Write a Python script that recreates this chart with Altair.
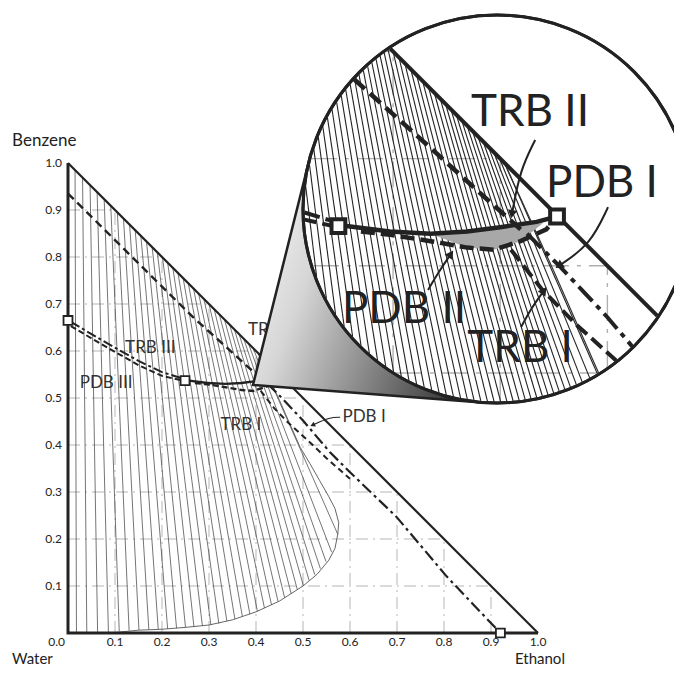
import math
import pandas as pd
import altair as alt

# ---------------- data (x = ethanol fraction, y = benzene fraction) ----------------
tie_bottom_x = [0.018, 0.040, 0.063, 0.086, 0.109, 0.130, 0.151, 0.172, 0.192, 0.212,
                0.231, 0.250, 0.268, 0.286, 0.304, 0.321, 0.338, 0.355, 0.371, 0.387,
                0.403, 0.418, 0.433, 0.447, 0.461, 0.475, 0.488, 0.501, 0.513, 0.525,
                0.537, 0.549, 0.561, 0.574]
tie_bottom_y = [0.000, 0.000, 0.000, 0.002, 0.004, 0.005, 0.006, 0.007, 0.008, 0.009,
                0.010, 0.012, 0.013, 0.015, 0.017, 0.020, 0.025, 0.030, 0.035, 0.040,
                0.046, 0.053, 0.060, 0.067, 0.075, 0.083, 0.092, 0.100, 0.112, 0.124,
                0.137, 0.152, 0.172, 0.210]
tie_top_x = [0.015, 0.031, 0.047, 0.062, 0.077, 0.091, 0.105, 0.118, 0.131, 0.143,
             0.155, 0.167, 0.179, 0.190, 0.201, 0.212, 0.223, 0.234, 0.245, 0.256,
             0.267, 0.278, 0.289, 0.300, 0.311, 0.322, 0.333, 0.344, 0.354, 0.364,
             0.374, 0.384, 0.394, 0.404]

# extra tie lines that only the magnified view resolves
fine_bottom_x = [0.202, 0.2215, 0.2405, 0.259, 0.277, 0.295, 0.3125, 0.3295, 0.3465, 0.363,
                 0.379, 0.395, 0.4105, 0.4255, 0.440, 0.454, 0.468, 0.4815, 0.4945, 0.507,
                 0.519, 0.531, 0.543, 0.555, 0.5675]
fine_bottom_y = [0.0085, 0.0095, 0.011, 0.0125, 0.014, 0.016, 0.0185, 0.0225, 0.0275, 0.0325,
                 0.0375, 0.043, 0.0495, 0.0565, 0.0635, 0.071, 0.079, 0.0875, 0.096, 0.106,
                 0.118, 0.1305, 0.1445, 0.162, 0.191]
fine_top_x = [0.137, 0.149, 0.161, 0.173, 0.1845, 0.1955, 0.2065, 0.2175, 0.2285, 0.2395,
              0.2505, 0.2615, 0.2725, 0.2835, 0.2945, 0.3055, 0.3165, 0.3275, 0.3385, 0.349,
              0.359, 0.369, 0.379, 0.389, 0.399]

binodal_x = [0.090, 0.150, 0.200, 0.250, 0.300, 0.350, 0.400, 0.450, 0.500, 0.530, 0.555,
             0.568, 0.574, 0.576, 0.568, 0.555, 0.535, 0.515, 0.494, 0.450, 0.404]
binodal_y = [0.000, 0.006, 0.008, 0.012, 0.017, 0.028, 0.045, 0.068, 0.100, 0.125, 0.155,
             0.180, 0.210, 0.235, 0.265, 0.290, 0.325, 0.360, 0.395, 0.495, 0.596]

trb2_x = [0.000, 0.100, 0.200, 0.266, 0.335, 0.381, 0.419]
trb2_y = [0.935, 0.836, 0.737, 0.672, 0.610, 0.568, 0.534]

trb3_x = [0.006, 0.050, 0.100, 0.150, 0.200, 0.249]
trb3_y = [0.662, 0.636, 0.607, 0.579, 0.555, 0.540]
pdb3_x = [0.006, 0.050, 0.100, 0.150, 0.200, 0.249]
pdb3_y = [0.653, 0.627, 0.598, 0.570, 0.547, 0.536]

upper_x = [0.249, 0.297, 0.335, 0.369, 0.400, 0.434, 0.453]
upper_y = [0.538, 0.532, 0.530, 0.532, 0.536, 0.541, 0.546]
pdb2_x = [0.270, 0.297, 0.335, 0.369, 0.394, 0.419, 0.443, 0.453]
pdb2_y = [0.532, 0.529, 0.523, 0.517, 0.515, 0.523, 0.534, 0.546]

lens_x = [0.335, 0.369, 0.394, 0.419, 0.440]
lens_top = [0.530, 0.532, 0.535, 0.538, 0.540]
lens_bottom = [0.530, 0.517, 0.515, 0.523, 0.540]

trb1_x = [0.410, 0.439, 0.470, 0.510, 0.550, 0.600]
trb1_y = [0.515, 0.478, 0.446, 0.410, 0.372, 0.328]
pdb1_x = [0.425, 0.440, 0.456, 0.500, 0.557, 0.600, 0.699, 0.806, 0.920]
pdb1_y = [0.530, 0.515, 0.499, 0.452, 0.385, 0.342, 0.247, 0.120, 0.000]

marker_x = [0.000, 0.249, 0.453, 0.920]
marker_y = [0.665, 0.537, 0.546, 0.000]

grid_values = [0.1, 0.2, 0.3, 0.4, 0.5, 0.6, 0.7, 0.8, 0.9]
tick_values = [0.1, 0.2, 0.3, 0.4, 0.5, 0.6, 0.7, 0.8, 0.9, 1.0]
tick_labels = ["0.1", "0.2", "0.3", "0.4", "0.5", "0.6", "0.7", "0.8", "0.9", "1.0"]

main_labels = ["TRB III", "PDB III", "TRB I"]
main_label_x = [0.175, 0.081, 0.368]
main_label_y = [0.606, 0.532, 0.443]
side_labels = ["PDB I", "TRB II"]
side_label_x = [0.584, 0.383]
side_label_y = [0.459, 0.645]

inset_labels = ["TRB II", "PDB I", "PDB II", "TRB I"]
inset_label_x = [0.983, 1.136, 0.715, 0.962]
inset_label_y = [1.106, 0.955, 0.687, 0.604]

# ---------------- magnifier geometry ----------------
CENTER = (0.9128, 0.9021)
RADIUS = 0.4128
FOCUS = (0.397, 0.553)
MAG = 2.28
TIP = (0.3936, 0.5277)

FONT = "Lato"
INK = "#222222"
W = H = 470
scale = alt.Scale(domain=[0, 1], nice=False, zero=False)


def xenc(f="x"):
    return alt.X(f"{f}:Q", scale=scale, axis=None)


def yenc(f="y"):
    return alt.Y(f"{f}:Q", scale=scale, axis=None)


def lines_df(lines):
    rows = []
    for g, (xs, ys) in enumerate(lines):
        for o, (x, y) in enumerate(zip(xs, ys)):
            rows.append({"g": g, "o": o, "x": x, "y": y})
    if not rows:
        rows.append({"g": 0, "o": 0, "x": -5, "y": -5})
    return pd.DataFrame(rows)


def line_layer(lines, **mk):
    return alt.Chart(lines_df(lines)).mark_line(**mk).encode(
        x=xenc(), y=yenc(), detail="g:N", order="o:Q")


def rule_layer(segs, **mk):
    df = pd.DataFrame(segs, columns=["x", "y", "x2", "y2"])
    return alt.Chart(df).mark_rule(**mk).encode(
        x=xenc(), y=yenc(), x2="x2:Q", y2="y2:Q")


def to_inset(x, y):
    return (CENTER[0] + MAG * (x - FOCUS[0]), CENTER[1] + MAG * (y - FOCUS[1]))


def clip_runs(pts, r=RADIUS * 0.993):
    cx, cy = CENTER
    runs, cur = [], []
    for p, q in zip(pts[:-1], pts[1:]):
        dx, dy = q[0] - p[0], q[1] - p[1]
        fx, fy = p[0] - cx, p[1] - cy
        a = dx * dx + dy * dy
        if a == 0:
            continue
        b = 2 * (fx * dx + fy * dy)
        c = fx * fx + fy * fy - r * r
        disc = b * b - 4 * a * c
        if disc <= 0:
            if cur:
                runs.append(cur)
                cur = []
            continue
        sq = math.sqrt(disc)
        s0 = max((-b - sq) / (2 * a), 0.0)
        s1 = min((-b + sq) / (2 * a), 1.0)
        if s0 >= s1:
            if cur:
                runs.append(cur)
                cur = []
            continue
        pa = (p[0] + s0 * dx, p[1] + s0 * dy)
        pb = (p[0] + s1 * dx, p[1] + s1 * dy)
        if s0 > 0 or not cur:
            if cur:
                runs.append(cur)
            cur = [pa]
        cur.append(pb)
        if s1 < 1:
            runs.append(cur)
            cur = []
    if cur:
        runs.append(cur)
    return runs


def inset_lines(lines):
    out = []
    for xs, ys in lines:
        pts = [to_inset(x, y) for x, y in zip(xs, ys)]
        for run in clip_runs(pts):
            out.append(([p[0] for p in run], [p[1] for p in run]))
    return out


def inset_segs(segs):
    out = []
    for x, y, x2, y2 in segs:
        for run in clip_runs([to_inset(x, y), to_inset(x2, y2)]):
            out.append((run[0][0], run[0][1], run[-1][0], run[-1][1]))
    return out


def text_layer(texts, xs, ys, size, color, align="center", baseline="middle"):
    df = pd.DataFrame({"t": texts, "x": xs, "y": ys})
    return alt.Chart(df).mark_text(font=FONT, fontSize=size, color=color, align=align,
                                   baseline=baseline).encode(x=xenc(), y=yenc(), text="t:N")


def arrow_layers(arrows, width, head):
    heads = []
    for xs, ys in arrows:
        dx, dy = xs[-1] - xs[-2], ys[-1] - ys[-2]
        ang = (math.degrees(math.atan2(dx, dy)) + 360) % 360
        heads.append({"x": xs[-1], "y": ys[-1], "a": ang})
    shafts = line_layer(arrows, color=INK, strokeWidth=width, interpolate="basis")
    hd = alt.Chart(pd.DataFrame(heads)).mark_point(
        shape="triangle", filled=True, color=INK, size=head, opacity=1).encode(
        x=xenc(), y=yenc(), angle=alt.Angle("a:Q", scale=None))
    return [shafts, hd]


# ---------------- geometry built from the arrays ----------------
grid_segs = []
for v in grid_values:
    grid_segs.append((v, 0.0, v, 1.0 - v))
    grid_segs.append((0.0, v, 1.0 - v, v))
tie_segs = [(bx, by, tx, 1.0 - tx) for bx, by, tx in zip(tie_bottom_x, tie_bottom_y, tie_top_x)]
fine_segs = [(bx, by, tx, 1.0 - tx) for bx, by, tx in zip(fine_bottom_x, fine_bottom_y, fine_top_x)]

curves = {
    "trb2": (trb2_x, trb2_y), "trb3": (trb3_x, trb3_y), "pdb3": (pdb3_x, pdb3_y),
    "upper": (upper_x, upper_y), "pdb2": (pdb2_x, pdb2_y),
    "trb1": (trb1_x, trb1_y), "pdb1": (pdb1_x, pdb1_y),
}
styles = {
    "trb2": dict(strokeWidth=2.4, strokeDash=[8, 5]),
    "trb3": dict(strokeWidth=2.0, strokeDash=[10, 3, 3, 3]),
    "pdb3": dict(strokeWidth=2.0, strokeDash=[6, 3]),
    "upper": dict(strokeWidth=2.4),
    "pdb2": dict(strokeWidth=2.4, strokeDash=[6, 3]),
    "trb1": dict(strokeWidth=2.0, strokeDash=[6, 4]),
    "pdb1": dict(strokeWidth=2.2, strokeDash=[12, 4, 3, 4]),
}
inset_styles = {
    "trb2": dict(strokeWidth=4.5, strokeDash=[14, 7]),
    "trb3": dict(strokeWidth=4.0, strokeDash=[16, 6, 5, 6]),
    "pdb3": dict(strokeWidth=4.0, strokeDash=[12, 6]),
    "upper": dict(strokeWidth=4.5),
    "pdb2": dict(strokeWidth=4.5, strokeDash=[14, 6]),
    "trb1": dict(strokeWidth=4.0, strokeDash=[14, 6]),
    "pdb1": dict(strokeWidth=4.0, strokeDash=[20, 6, 5, 6]),
}

layers = []
# main plot
layers.append(rule_layer(grid_segs, color="#b5b5b5", strokeWidth=1, strokeDash=[12, 5, 2, 5]))
layers.append(rule_layer(tie_segs, color="#3a3a3a", strokeWidth=0.7))
layers.append(line_layer([(binodal_x, binodal_y)], color="#555555", strokeWidth=0.9))
layers.append(line_layer([([0, 0, 1], [1, 0, 0])], color=INK, strokeWidth=3))
layers.append(line_layer([([0, 1], [1, 0])], color=INK, strokeWidth=2.2))
for k, (xs, ys) in curves.items():
    layers.append(line_layer([(xs, ys)], color=INK, **styles[k]))
layers.append(alt.Chart(pd.DataFrame({"x": marker_x, "y": marker_y})).mark_point(
    shape="square", size=80, filled=True, fill="white", stroke=INK, strokeWidth=1.8,
    opacity=1).encode(x=xenc(), y=yenc()))
layers.append(text_layer(main_labels, main_label_x, main_label_y, 17, "#333333"))
layers.append(text_layer(side_labels, side_label_x, side_label_y, 17, "#333333", align="left"))
layers += arrow_layers([([0.579, 0.557, 0.522], [0.459, 0.459, 0.443])], 1.2, 30)

# axis tick labels and component names
layers.append(text_layer(tick_labels, [-0.0128] * len(tick_values), tick_values, 12, INK,
                         align="right"))
layers.append(text_layer(tick_labels, tick_values, [-0.0195] * len(tick_values), 12, INK))
layers.append(text_layer(["0.0"], [-0.0064], [-0.0195], 12, INK, align="right"))
layers.append(text_layer(["Benzene"], [-0.119], [1.047], 17, INK, align="left"))
layers.append(text_layer(["Water"], [-0.119], [-0.0660], 15, INK, align="left",
                         baseline="alphabetic"))
layers.append(text_layer(["Ethanol"], [0.951], [-0.0660], 15, INK, align="left",
                         baseline="alphabetic"))

# cone of the magnifier
cx, cy = CENTER
px, py = TIP
d = math.hypot(cx - px, cy - py)
phi = math.atan2(cy - py, cx - px)
alpha = math.asin(RADIUS / d)
L = math.sqrt(d * d - RADIUS * RADIUS)
t1 = (px + L * math.cos(phi + alpha), py + L * math.sin(phi + alpha))
t2 = (px + L * math.cos(phi - alpha), py + L * math.sin(phi - alpha))
low_at_t1 = py + (t2[1] - py) * (t1[0] - px) / (t2[0] - px)
cone_df = pd.DataFrame({"x": [px, t1[0], t2[0]], "y": [py, t1[1], t2[1]],
                        "y2": [py, low_at_t1, t2[1]]})
cone_fill = alt.Gradient(
    gradient="linear", x1=0, y1=0.2, x2=1, y2=0.6,
    stops=[alt.GradientStop(color="#f6f6f6", offset=0),
           alt.GradientStop(color="#d6d6d6", offset=0.3),
           alt.GradientStop(color="#8a8a8a", offset=0.65),
           alt.GradientStop(color="#3c3c3c", offset=1)])
layers.append(alt.Chart(cone_df).mark_area(fill=cone_fill, stroke=INK, strokeWidth=2.5,
                                           fillOpacity=1).encode(x=xenc(), y=yenc(), y2="y2:Q"))

circle_size = (2 * RADIUS * W) ** 2
circle_df = pd.DataFrame({"x": [cx], "y": [cy]})
layers.append(alt.Chart(circle_df).mark_point(
    shape="circle", size=circle_size, filled=True, fill="white", stroke=INK, strokeWidth=3,
    opacity=1).encode(x=xenc(), y=yenc()))

# magnified view
layers.append(rule_layer(inset_segs(grid_segs), color="#b0b0b0", strokeWidth=1.4,
                         strokeDash=[26, 8, 4, 8]))
layers.append(rule_layer(inset_segs(tie_segs + fine_segs), color=INK, strokeWidth=1.1))
layers.append(line_layer(inset_lines([(binodal_x, binodal_y)]), color="#333333", strokeWidth=1.2))
layers.append(line_layer(inset_lines([([0, 1], [1, 0])]), color=INK, strokeWidth=4))
ilens = [to_inset(x, y) for x, y in zip(lens_x, lens_top)]
ilens_b = [to_inset(x, y) for x, y in zip(lens_x, lens_bottom)]
ilens_df = pd.DataFrame({"x": [p[0] for p in ilens], "y": [p[1] for p in ilens],
                         "y2": [p[1] for p in ilens_b]})
layers.append(alt.Chart(ilens_df).mark_area(color="#a8a8a8").encode(x=xenc(), y=yenc(), y2="y2:Q"))
for k, (xs, ys) in curves.items():
    layers.append(line_layer(inset_lines([(xs, ys)]), color=INK, **inset_styles[k]))
im = [to_inset(x, y) for x, y in zip(marker_x, marker_y)]
im = [p for p in im if math.hypot(p[0] - cx, p[1] - cy) < RADIUS]
layers.append(alt.Chart(pd.DataFrame({"x": [p[0] for p in im], "y": [p[1] for p in im]})).mark_point(
    shape="square", size=190, filled=True, fill="white", stroke=INK, strokeWidth=4,
    opacity=1).encode(x=xenc(), y=yenc()))
layers.append(alt.Chart(circle_df).mark_point(
    shape="circle", size=circle_size, filled=False, stroke=INK, strokeWidth=3,
    opacity=1).encode(x=xenc(), y=yenc()))
layers.append(text_layer(inset_labels, inset_label_x, inset_label_y, 44, INK))
inset_arrows = [
    ([0.994, 0.962, 0.945], [1.049, 0.985, 0.894]),
    ([1.149, 1.111, 1.047], [0.906, 0.826, 0.783]),
    ([0.766, 0.790, 0.813], [0.730, 0.770, 0.804]),
    ([0.964, 0.985, 1.011], [0.651, 0.690, 0.726]),
]
layers += arrow_layers(inset_arrows, 2, 90)

chart = alt.layer(*layers).properties(
    width=W, height=H,
    padding={"left": 60, "top": 155, "right": 136, "bottom": 34},
    autosize=alt.AutoSizeParams(type="none"),
).configure_view(stroke=None)

chart.save("out.html", embed_options={"renderer": "svg", "actions": False})
